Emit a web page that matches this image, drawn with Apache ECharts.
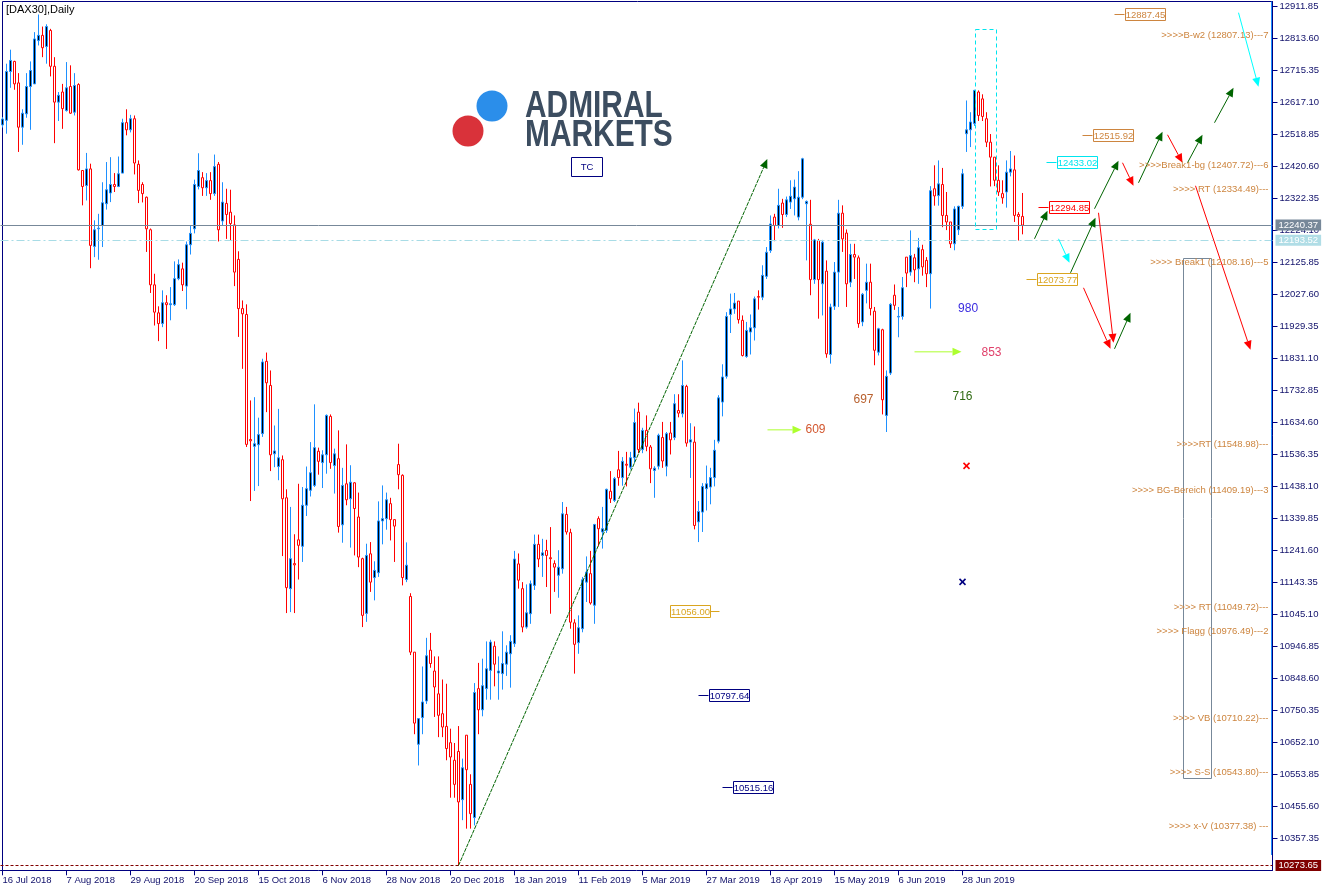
<!DOCTYPE html>
<html><head><meta charset="utf-8">
<script src="https://cdn.jsdelivr.net/npm/echarts@6/dist/echarts.min.js"></script>
<style>html,body{margin:0;padding:0;background:#fff}#c{width:1331px;height:891px}</style>
</head><body><div id="c"></div>
<script>
const FONT = '"Liberation Sans", Arial, sans-serif';

// ---- trading calendar (Xetra) ----
const firstDay = '2018-07-16';
const barCount = 256;
const slotCount = 318;
const holidays = ['2018-10-03','2018-12-24','2018-12-25','2018-12-26','2018-12-31','2019-01-01','2019-04-19','2019-04-22','2019-05-01'];
const monthNames = ['Jan','Feb','Mar','Apr','May','Jun','Jul','Aug','Sep','Oct','Nov','Dec'];

// ---- OHLC values ----
const opens = [12548,12562,12712,12743,12677,12541,12582,12666,12674,12807,
12823,12789,12838,12728,12618,12649,12592,12666,12587,12672,
12408,12362,12413,12175,12229,12239,12306,12339,12365,12359,
12400,12555,12533,12567,12427,12365,12326,12226,12057,11971,
11938,12002,11996,11996,12076,12106,12053,12180,12229,12359,
12386,12355,12377,12337,12427,12253,12307,12280,12241,12135,
11984,11966,11582,11561,11566,11600,11822,11748,11538,11499,
11520,11403,11124,11201,11274,11254,11380,11426,11441,11546,
11511,11535,11653,11502,11523,11320,11446,11400,11449,11344,
11216,11048,11231,11158,11173,11332,11339,11385,11336,11505,
11472,11152,11100,10929,10646,10728,10779,10935,10871,10801,
10740,10701,10651,10597,10624,10476,10674,10523,10421,10817,
10752,10817,10873,10947,10865,10863,10892,10924,10955,11200,
11124,11006,11047,11134,11260,11226,11241,11219,11201,11165,
11185,11352,11296,11019,10958,11001,11144,11170,11073,11339,
11298,11303,11423,11395,11489,11465,11506,11497,11526,11666,
11551,11610,11559,11487,11500,11588,11500,11602,11588,11671,
11661,11745,11574,11574,11329,11359,11431,11436,11465,11577,
11697,11776,11966,11983,12007,11948,11837,11912,11925,12021,
12019,12083,12162,12265,12239,12308,12273,12311,12321,12265,
12326,12306,12243,12073,12193,12060,12099,11843,11991,12096,
12277,12216,12065,12150,12140,11943,12040,12065,11976,11850,
11919,11656,11786,12025,11958,11960,12142,12096,12140,12106,
12165,12132,12091,12352,12331,12365,12270,12250,12183,12226,
12298,12521,12533,12552,12649,12628,12567,12495,12449,12378,
12337,12342,12403,12410,12273,12267];
const closes = [12566,12712,12746,12674,12541,12584,12666,12715,12812,12823,
12785,12850,12728,12618,12639,12598,12662,12584,12669,12410,
12359,12413,12178,12226,12231,12309,12349,12365,12359,12398,
12555,12533,12567,12431,12347,12337,12229,12057,11973,11938,
12002,11996,11999,12076,12119,12057,12180,12215,12365,12408,
12355,12377,12337,12420,12226,12311,12273,12245,12096,11984,
11968,11567,11578,11569,11597,11820,11756,11535,11547,11526,
11400,11127,11216,11197,11257,11380,11431,11480,11557,11515,
11535,11656,11511,11538,11315,11441,11397,11451,11370,11221,
11042,11226,11144,11180,11332,11339,11397,11336,11316,11474,
11158,11196,10929,10711,10725,10776,10918,10894,10822,10735,
10699,10633,10607,10523,10469,10574,10568,10433,10805,10752,
10826,10878,10960,10892,10871,10894,10929,10962,11215,11150,
11006,11050,11139,11260,11215,11234,11226,11216,11190,11190,
11354,11298,11021,10953,11004,11151,11175,11080,11321,11308,
11308,11429,11400,11462,11465,11515,11503,11526,11634,11551,
11610,11561,11492,11494,11595,11516,11600,11581,11692,11663,
11748,11571,11581,11318,11361,11438,11446,11465,11549,11710,
11774,11960,11983,12001,11950,11840,11917,11925,12014,12019,
12086,12157,12244,12239,12301,12273,12318,12329,12357,12326,
12444,12313,12073,12195,12073,12188,11845,11989,12096,12277,
12198,12060,12150,12142,11938,12028,12065,11984,11856,11922,
11704,11776,11997,11994,11960,12048,12093,12147,12103,12171,
12112,12091,12346,12330,12367,12270,12250,12183,12290,12298,
12398,12533,12557,12654,12577,12574,12495,12449,12378,12342,
12324,12403,12413,12270,12267,12240.37];
const lows = [12540,12521,12662,12656,12465,12487,12570,12533,12674,12792,
12756,12736,12697,12492,12560,12536,12589,12582,12577,12408,
12301,12316,12108,12142,12134,12173,12288,12311,12342,12357,
12400,12516,12525,12396,12308,12310,12158,12032,11932,11884,
11927,11860,11948,11992,12071,12038,11982,12150,12215,12350,
12330,12330,12318,12330,12190,12240,12198,12193,12053,11897,
11799,11559,11393,11424,11439,11590,11666,11485,11497,11457,
11224,11049,11052,11049,11152,11206,11347,11407,11436,11474,
11433,11477,11492,11416,11296,11265,11380,11250,11226,11190,
11006,11022,11114,11088,11160,11260,11305,11272,11206,11429,
11134,11144,10920,10677,10581,10677,10770,10881,10730,10668,
10668,10597,10482,10482,10273.65,10413,10387,10387,10397,10677,
10732,10783,10783,10824,10783,10814,10856,10820,10945,11124,
10990,11001,11016,11120,11190,11160,11129,11047,11114,11096,
11170,11290,11001,10863,10924,10990,11083,11075,11016,11254,
11247,11295,11387,11390,11440,11440,11438,11490,11510,11540,
11540,11546,11448,11403,11490,11495,11469,11536,11580,11650,
11650,11560,11464,11306,11267,11298,11364,11383,11438,11570,
11653,11769,11909,11968,11938,11837,11833,11843,11886,11981,
12010,12075,12155,12191,12230,12232,12265,12290,12270,12255,
12320,12132,12025,12060,11953,11963,11833,11815,11980,11989,
12158,11989,12050,12075,11925,11930,12000,11963,11810,11840,
11659,11605,11780,11980,11896,11950,12050,12085,12065,12060,
12085,12050,11984,12300,12300,12234,12225,12170,12163,12210,
12290,12465,12480,12545,12560,12560,12480,12359,12360,12330,
12306,12294,12390,12250,12193,12212];
const highs = [12572,12736,12779,12745,12707,12596,12707,12743,12833,12887,
12850,12857,12843,12756,12649,12674,12741,12731,12707,12676,
12408,12462,12429,12255,12275,12372,12434,12449,12400,12451,
12567,12596,12579,12577,12439,12372,12328,12230,12091,11991,
12040,12025,12050,12129,12135,12125,12190,12240,12380,12461,
12403,12400,12403,12457,12434,12372,12352,12349,12270,12160,
12009,11997,11702,11712,11649,11830,11849,11794,11625,11676,
11533,11429,11375,11291,11446,11436,11499,11574,11690,11557,
11549,11659,11659,11554,11610,11495,11567,11503,11451,11419,
11219,11262,11267,11208,11392,11441,11419,11403,11336,11569,
11475,11266,11110,10929,10725,10885,10973,10988,10916,10916,
10845,10832,10694,10650,10702,10602,10674,10554,10834,10896,
10909,10962,10967,10962,10916,10993,10950,10981,11240,11232,
11144,11137,11149,11290,11290,11277,11274,11313,11211,11242,
11390,11375,11308,11030,11042,11160,11223,11240,11323,11346,
11375,11431,11485,11467,11547,11528,11544,11544,11677,11695,
11618,11656,11565,11500,11600,11636,11605,11636,11721,11721,
11825,11750,11632,11622,11393,11448,11502,11495,11581,11718,
11813,11973,12030,12032,12007,11963,11943,11966,12021,12040,
12117,12173,12270,12275,12352,12321,12328,12378,12380,12406,
12447,12316,12318,12198,12198,12195,12132,11999,12127,12318,
12301,12227,12183,12183,12147,12032,12122,12122,11989,11925,
11922,11794,12001,12058,11989,12081,12142,12224,12152,12201,
12180,12142,12360,12424,12439,12416,12342,12250,12298,12300,
12413,12623,12587,12656,12654,12642,12587,12520,12449,12424,
12378,12439,12468,12454,12280,12339];

// ---- price lines ----
const bidPrice = 12240.37;
const cyanLevel = 12193.52;
const lowLevel = 10273.65;

// ---- y axis ticks ----
const yMin = 10259.10, yMax = 12927.0, yStep = 98.25;

// ---- annotations (data coordinates: bar index, price) ----
const arrowSegs = [
  [258, 12198.3, 261.25, 12284.3],
  [264, 12198.3, 266.75, 12124.6],
  [267, 12093.9, 273.25, 12262.8],
  [273, 12290.5, 279, 12437.9],
  [280, 12431.8, 282.75, 12361.1],
  [284, 12370.3, 290, 12527.0],
  [291.25, 12517.8, 295, 12431.8],
  [296.25, 12431.8, 300, 12517.8],
  [303, 12554.7, 307.75, 12662.2],
  [309, 12892.6, 314, 12665.2],
  [274, 12278.2, 277.75, 11878.9],
  [298.25, 12361.1, 312, 11857.4],
  [270.25, 12047.8, 277, 11860.4],
  [278, 11860.4, 282, 11971.0],
  [191.25, 11611.6, 199.75, 11611.6],
  [228, 11851.2, 239.75, 11851.2],
  [114, 10273.65, 191.2, 12443.2]
];
const arrowColors = ['#006400','#00FFFF','#006400','#006400','#FF0000','#006400','#FF0000','#006400','#006400','#00FFFF','#FF0000','#FF0000','#FF0000','#006400','#ADFF2F','#ADFF2F','#006400'];
const arrowDotted = [0,0,0,0,0,0,0,0,0,0,0,0,0,0,0,0,1];

const tagAnchors = [[179.25, 11056.00],[174, 10797.64],[180, 10515.16],[256, 12073.77],[259, 12294.85],[261, 12433.02],[270, 12515.92],[278, 12887.45]];
const tagColors = ['#DAA520','#000080','#000080','#DAA520','#FF0000','#00E5EE','#CD853F','#CD853F'];
const tagSide = ['left','right','right','right','right','right','right','right'];

const levelTexts = ['>>>>B-w2 (12807.13)---7','>>>>Break1-bg (12407.72)---6','>>>> RT (12334.49)---','>>>> Break1 (12108.16)---5','>>>>RT (11548.98)---','>>>> BG-Bereich (11409.19)---3','>>>> RT (11049.72)---','>>>> Flagg (10976.49)---2','>>>> VB (10710.22)---','>>>> S-S (10543.80)---','>>>> x-V (10377.38) ---'];
const levelValues = [12807.13,12407.72,12334.49,12108.16,11548.98,11409.19,11049.72,10976.49,10710.22,10543.80,10377.38];
const levelTextX = 316.5;

const waveLabels = ['980','853','716','697','609'];
const wavePos = [[241.4, 11983.3],[247.25, 11848.1],[240, 11713.0],[215.25, 11703.8],[203.25, 11611.6]];
const waveColors = ['#3A2BE0','#E0406A','#2F6B12','#B8602E','#D2562E'];

const crossPos = [[241, 11501.0],[240, 11144.7]];
const crossColors = ['#FF0000','#000080'];

const boxes = [[243.1, 12843.4, 248.25, 12229.1],[295.1, 12138.4, 302.1, 10541.7]];
const boxColors = ['#00E5EE','#778899'];
const boxDashed = [1, 0];

const vLine = [[317, 12927, 317, 10306]];

// ---- build categories ----
function buildCategories() {
  const out = [];
  const d = new Date(firstDay + 'T00:00:00Z');
  while (out.length < slotCount) {
    const wd = d.getUTCDay();
    const iso = d.toISOString().slice(0,10);
    if (wd !== 0 && wd !== 6 && holidays.indexOf(iso) < 0) {
      out.push(d.getUTCDate() + ' ' + monthNames[d.getUTCMonth()] + ' ' + d.getUTCFullYear());
    }
    d.setUTCDate(d.getUTCDate() + 1);
  }
  return out;
}
const categories = buildCategories();
const labelEvery = 16;
const labelInterval = (idx) => idx % labelEvery === 0 && idx < barCount;

const candleData = opens.map((o, i) => [o, closes[i], lows[i], highs[i]]);

const chart = echarts.init(document.getElementById('c'), null, {renderer: 'canvas', width: 1331, height: 891});

function arrowRender(params, api) {
  const i = params.dataIndex;
  const p1 = api.coord([api.value(0), api.value(1)]);
  const p2 = api.coord([api.value(2), api.value(3)]);
  const c = arrowColors[i];
  const dx = p2[0]-p1[0], dy = p2[1]-p1[1], L = Math.hypot(dx, dy);
  const ux = dx/L, uy = dy/L;
  const hl = 9, hw = 4;
  const bx = p2[0]-ux*hl, by = p2[1]-uy*hl;
  return {type: 'group', children: [
    {type: 'line', shape: {x1: p1[0], y1: p1[1], x2: bx, y2: by}, style: {stroke: c, lineWidth: 1, lineDash: arrowDotted[i] ? [4, 1] : null}},
    {type: 'polygon', shape: {points: [[p2[0], p2[1]], [bx-uy*hw, by+ux*hw], [bx+uy*hw, by-ux*hw]]}, style: {fill: c}}
  ]};
}

function tagRender(params, api) {
  const i = params.dataIndex;
  const p = api.coord([api.value(0), api.value(1)]);
  const col = tagColors[i];
  const txt = tagAnchors[i][1].toFixed(2);
  const w = 40, h = 12, tail = 10;
  let x0, t1, t2;
  if (tagSide[i] === 'right') { t1 = p[0]; t2 = p[0]+tail; x0 = t2; }
  else { t1 = p[0]-tail; t2 = p[0]; x0 = t1 - w; }
  const y = Math.round(p[1]) + 0.5;
  x0 = Math.round(x0) + 0.5;
  return {type: 'group', children: [
    {type: 'line', shape: {x1: t1, y1: y, x2: t2, y2: y}, style: {stroke: col, lineWidth: 1}},
    {type: 'rect', shape: {x: x0, y: y-6, width: w, height: h}, style: {fill: '#fff', stroke: col, lineWidth: 1}},
    {type: 'text', x: x0 + w/2, y: y + 0.5, style: {text: txt, fill: col, font: '9.5px ' + FONT, align: 'center', verticalAlign: 'middle'}}
  ]};
}

function levelRender(params, api) {
  const i = params.dataIndex;
  const p = api.coord([api.value(0), api.value(1)]);
  return {type: 'text', x: p[0], y: p[1] - 0.5, style: {text: levelTexts[i], fill: '#CD853F', font: '9.5px ' + FONT, align: 'right', verticalAlign: 'bottom'}};
}

function waveRender(params, api) {
  const i = params.dataIndex;
  const p = api.coord([api.value(0), api.value(1)]);
  return {type: 'text', x: p[0], y: p[1], style: {text: waveLabels[i], fill: waveColors[i], font: '12px ' + FONT, align: 'center', verticalAlign: 'middle'}};
}

function crossRender(params, api) {
  const i = params.dataIndex;
  const p = api.coord([api.value(0), api.value(1)]);
  const s = 3, c = crossColors[i];
  return {type: 'group', children: [
    {type: 'line', shape: {x1: p[0]-s, y1: p[1]-s, x2: p[0]+s, y2: p[1]+s}, style: {stroke: c, lineWidth: 1.6}},
    {type: 'line', shape: {x1: p[0]-s, y1: p[1]+s, x2: p[0]+s, y2: p[1]-s}, style: {stroke: c, lineWidth: 1.6}}
  ]};
}

function boxRender(params, api) {
  const i = params.dataIndex;
  const a = api.coord([api.value(0), api.value(1)]);
  const b = api.coord([api.value(2), api.value(3)]);
  const x = Math.round(Math.min(a[0], b[0])) + 0.5, y = Math.round(Math.min(a[1], b[1])) + 0.5;
  return {type: 'rect', shape: {x: x, y: y, width: Math.round(Math.abs(b[0]-a[0])), height: Math.round(Math.abs(b[1]-a[1]))},
    style: {fill: 'none', stroke: boxColors[i], lineWidth: 1, lineDash: boxDashed[i] ? [4, 3] : null}};
}

function vlineRender(params, api) {
  const a = api.coord([api.value(0), api.value(1)]);
  const b = api.coord([api.value(2), api.value(3)]);
  return {type: 'line', shape: {x1: Math.round(a[0])+0.5, y1: a[1], x2: Math.round(b[0])+0.5, y2: b[1]}, style: {stroke: '#1E90FF', lineWidth: 1}};
}

function priceLabel(bg) {
  return {show: true, position: 'end', distance: 3, color: '#fff', backgroundColor: bg, padding: [1, 3, 0, 3], fontSize: 9.5, fontFamily: FONT};
}

const custom = (render, data, z) => ({type: 'custom', xAxisIndex: 1, yAxisIndex: 0, silent: true, z: z, renderItem: render, data: data, animation: false});

const option = {
  animation: false,
  backgroundColor: '#ffffff',
  grid: {left: 0.5, top: 1.5, width: 1272, height: 868.8, containLabel: false, outerBoundsMode: 'none', show: false},
  xAxis: [
    {type: 'category', data: categories, boundaryGap: true,
     axisLine: {show: true, onZero: false, lineStyle: {color: '#000080', width: 1}},
     axisTick: {show: true, alignWithLabel: true, interval: labelInterval, length: 5, lineStyle: {color: '#000080'}},
     axisLabel: {show: true, interval: labelInterval, align: 'left', margin: 5, color: '#10106A', fontSize: 9.5, fontFamily: FONT, hideOverlap: false},
     splitLine: {show: false}},
    {type: 'value', min: -0.5, max: slotCount - 0.5, show: false}
  ],
  yAxis: [{
    type: 'value', position: 'right', min: yMin, max: yMax, interval: yStep,
    splitLine: {show: false},
    axisLine: {show: true, onZero: false, lineStyle: {color: '#000080', width: 1}},
    axisTick: {show: true, length: 5, lineStyle: {color: '#000080'}},
    axisLabel: {color: '#10106A', fontSize: 9.5, fontFamily: FONT, margin: 7, showMinLabel: false, showMaxLabel: false,
      formatter: v => v.toFixed(2)}
  }],
  graphic: [
    {type: 'line', shape: {x1: 2.5, y1: 1.5, x2: 2.5, y2: 870.5}, style: {stroke: '#000080', lineWidth: 1}, silent: true},
    {type: 'line', shape: {x1: 2.5, y1: 1.5, x2: 1272.5, y2: 1.5}, style: {stroke: '#000080', lineWidth: 1}, silent: true},
    {type: 'text', x: 6, y: 10, style: {text: '[DAX30],Daily', fill: '#000', font: '11px ' + FONT, verticalAlign: 'middle'}, silent: true},
    {type: 'circle', shape: {cx: 492, cy: 106, r: 15.5}, style: {fill: '#2B8EEA'}, silent: true},
    {type: 'circle', shape: {cx: 468, cy: 131, r: 15.5}, style: {fill: '#D9323A'}, silent: true},
    {type: 'text', x: 525, y: 107, scaleX: 0.83, style: {text: 'ADMIRAL', fill: '#3C4D60', font: 'bold 36px ' + FONT, verticalAlign: 'middle'}, silent: true},
    {type: 'text', x: 525, y: 136, scaleX: 0.83, style: {text: 'MARKETS', fill: '#3C4D60', font: 'bold 36px ' + FONT, verticalAlign: 'middle'}, silent: true},
    {type: 'rect', shape: {x: 571.5, y: 157.5, width: 31, height: 19}, style: {fill: '#fff', stroke: '#000080', lineWidth: 1}, silent: true},
    {type: 'text', x: 587, y: 167.5, style: {text: 'TC', fill: '#000080', font: '9.5px ' + FONT, align: 'center', verticalAlign: 'middle'}, silent: true}
  ],
  series: [
    {type: 'candlestick', xAxisIndex: 0, yAxisIndex: 0, data: candleData, barWidth: 2, silent: true, z: 3,
     itemStyle: {color: '#000000', color0: '#FFFFFF', borderColor: '#1E90FF', borderColor0: '#FF0000', borderWidth: 1},
     markLine: {symbol: 'none', silent: true, animation: false, precision: 2,
       data: [
         {yAxis: bidPrice, lineStyle: {color: '#778899', type: 'solid', width: 1}, label: Object.assign(priceLabel('#778899'), {formatter: bidPrice.toFixed(2)})},
         {yAxis: cyanLevel, lineStyle: {color: '#A8DCE6', type: [8, 3, 2, 3], width: 1}, label: Object.assign(priceLabel('#B0DDE6'), {formatter: cyanLevel.toFixed(2)})},
         {yAxis: lowLevel, lineStyle: {color: '#800000', type: [3, 2], width: 1}, label: Object.assign(priceLabel('#800000'), {formatter: lowLevel.toFixed(2)})}
       ]}},
    custom(boxRender, boxes, 6),
    custom(vlineRender, vLine, 6),
    custom(arrowRender, arrowSegs, 7),
    custom(tagRender, tagAnchors, 8),
    custom(levelRender, levelValues.map(v => [levelTextX, v]), 8),
    custom(waveRender, wavePos, 8),
    custom(crossRender, crossPos, 8)
  ]
};
chart.setOption(option);
</script>
</body></html>
